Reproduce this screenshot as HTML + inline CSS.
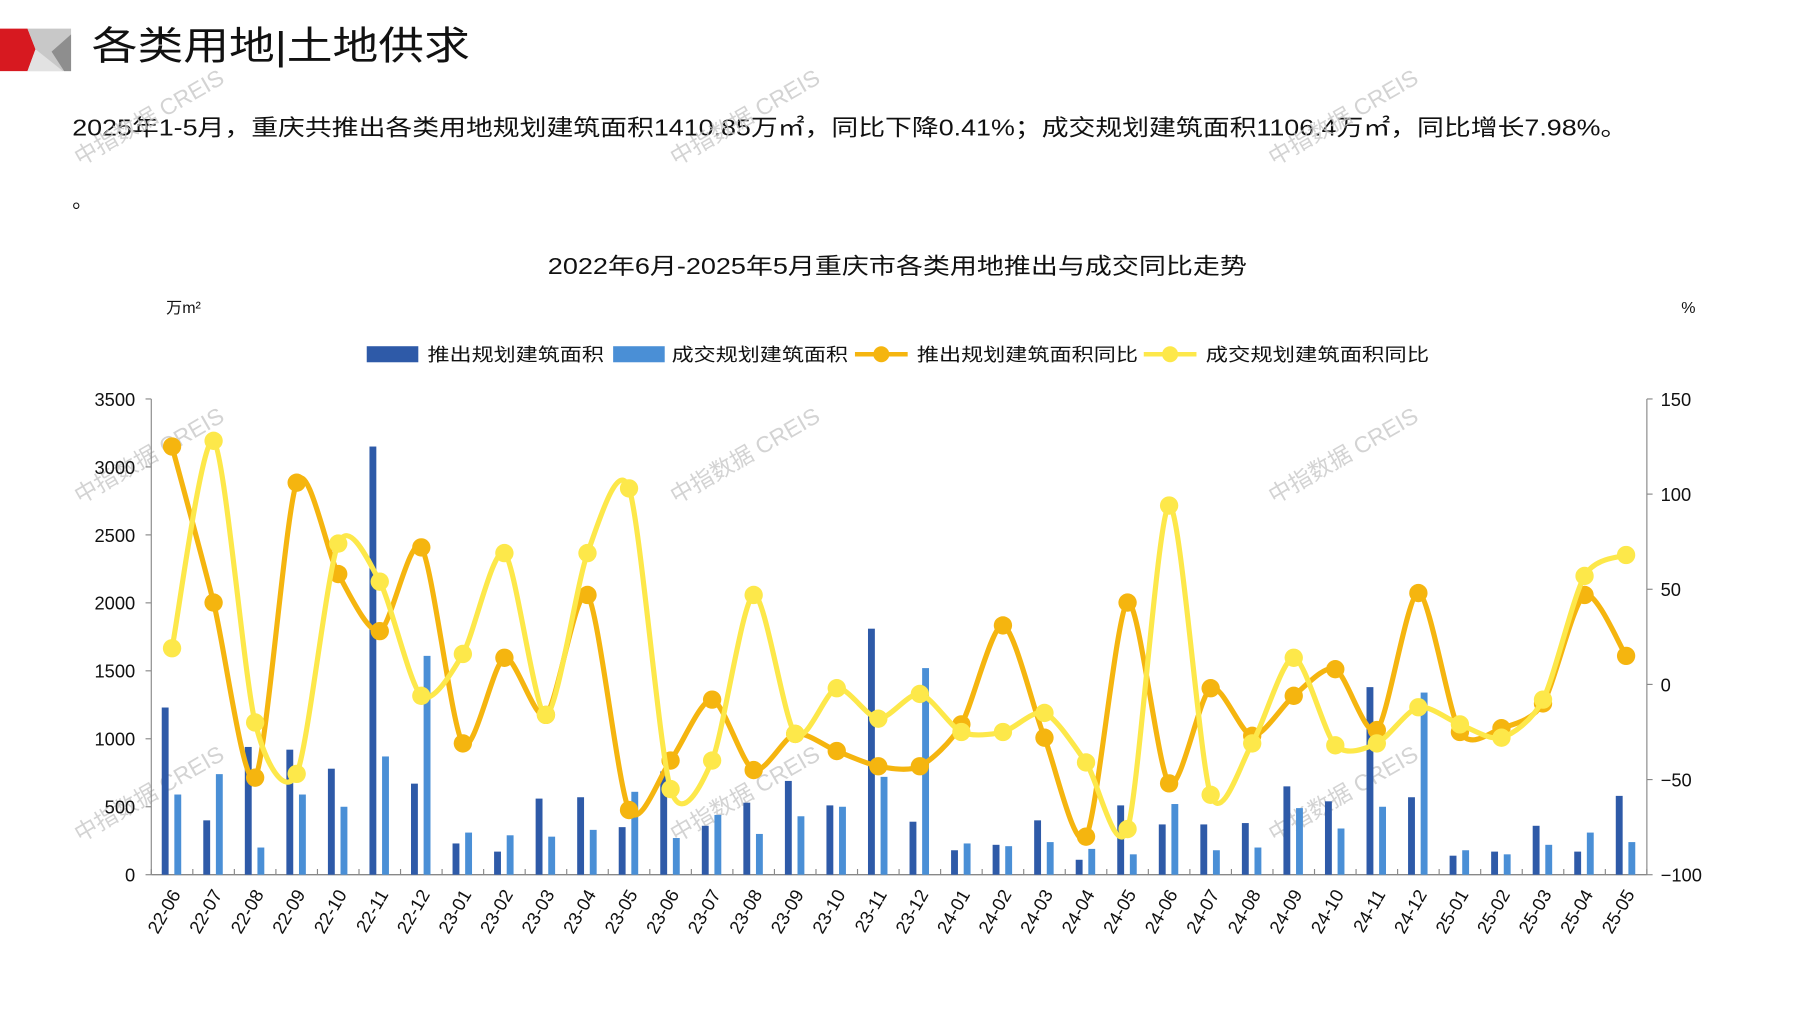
<!DOCTYPE html>
<html><head><meta charset="utf-8"><style>
html,body{margin:0;padding:0;background:#fff;}
svg{display:block;}
text{font-family:"Liberation Sans","Noto Sans CJK SC",sans-serif;}
</style></head><body>
<svg id="s" width="1797" height="1010" viewBox="0 0 1568 881" preserveAspectRatio="none" xmlns="http://www.w3.org/2000/svg">
<polygon points="0,25 24,25 31,43 24,62 0,62" fill="#d71920"/>
<polygon points="24,25 62,25 62,62 24,62 31,43" fill="#c8c8c8"/>
<polygon points="31,43 24,62 55,62" fill="#e2e2e2"/>
<polygon points="45,45 62,30 62,62 56,62" fill="#8e8e8e"/>
<text x="80" y="52" font-size="34" fill="#111" textLength="330" lengthAdjust="spacingAndGlyphs">各类用地|土地供求</text>
<text x="63" y="118" font-size="20" fill="#111" textLength="1357" lengthAdjust="spacingAndGlyphs">2025年1-5月，重庆共推出各类用地规划建筑面积1410.85万㎡，同比下降0.41%；成交规划建筑面积1106.4万㎡，同比增长7.98%。</text>
<text x="63" y="181" font-size="18" fill="#111">。</text>
<text x="478" y="239" font-size="20" fill="#111" textLength="610" lengthAdjust="spacingAndGlyphs">2022年6月-2025年5月重庆市各类用地推出与成交同比走势</text>
<text x="145" y="273" font-size="14" fill="#111">万m²</text>
<text x="1467" y="273" font-size="14" fill="#111">%</text>
<rect x="320" y="302" width="45" height="14" fill="#2e5aa8"/>
<text x="373" y="315" font-size="16" fill="#111" textLength="154" lengthAdjust="spacingAndGlyphs">推出规划建筑面积</text>
<rect x="535" y="302" width="45" height="14" fill="#4a8fd6"/>
<text x="586" y="315" font-size="16" fill="#111" textLength="154" lengthAdjust="spacingAndGlyphs">成交规划建筑面积</text>
<line x1="746" y1="309" x2="792" y2="309" stroke="#f5b50f" stroke-width="4"/><circle cx="769" cy="309" r="7" fill="#f5b50f"/>
<text x="800" y="315" font-size="16" fill="#111" textLength="193" lengthAdjust="spacingAndGlyphs">推出规划建筑面积同比</text>
<line x1="998" y1="309" x2="1044" y2="309" stroke="#fde84a" stroke-width="4"/><circle cx="1021" cy="309" r="7" fill="#fde84a"/>
<text x="1052" y="315" font-size="16" fill="#111" textLength="195" lengthAdjust="spacingAndGlyphs">成交规划建筑面积同比</text>
<g id="wm" fill="#c8c8c8" font-size="20" opacity="0.8"></g>
<g id="ch"></g>
</svg>
<script>
var ns="http://www.w3.org/2000/svg",g=document.getElementById('ch'),wm=document.getElementById('wm');
function el(t,a,p,txt){var e=document.createElementNS(ns,t);for(var k in a)e.setAttribute(k,a[k]);if(txt!=null)e.textContent=txt;(p||g).appendChild(e);return e;}
[[70,145],[590,145],[1112,145],[70,440],[590,440],[1112,440],[70,735],[590,735],[1112,735]].forEach(function(p){el('text',{x:p[0],y:p[1],transform:'rotate(-30 '+p[0]+' '+p[1]+')'},wm,'中指数据 CREIS');});
var L=132,R=1437,T=348,B=763,n=36,w=(R-L)/n;
var labs=[],y0=22,m0=6;for(var i=0;i<n;i++){var m=(m0-1+i)%12+1,y=y0+Math.floor((m0-1+i)/12);labs.push(y+'-'+(m<10?'0':'')+m);}
var b1=[1230,400,940,920,780,3150,670,230,170,560,570,350,760,360,530,690,510,1810,390,180,220,400,110,510,370,370,380,650,540,1380,570,140,170,360,170,580];
var b2=[590,740,200,590,500,870,1610,310,290,280,330,610,270,440,300,430,500,720,1520,230,210,240,190,150,520,180,200,490,340,500,1340,180,150,220,310,240];
var l1=[125,43,-49,106,58,28,72,-31,14,-16,47,-66,-40,-8,-45,-26,-35,-43,-43,-21,31,-28,-80,43,-52,-2,-27,-6,8,-24,48,-25,-23,-10,47,15];
var l2=[19,128,-20,-47,74,54,-6,16,69,-16,69,103,-55,-40,47,-26,-2,-18,-5,-25,-25,-15,-41,-76,94,-58,-31,14,-32,-31,-12,-21,-28,-8,57,68];
function yl(v){return B-v/3500*(B-T);} function yr(v){return B-(v+100)/250*(B-T);}
el('line',{x1:L,y1:T,x2:L,y2:B,stroke:'#888','stroke-width':1});
el('line',{x1:R,y1:T,x2:R,y2:B,stroke:'#888','stroke-width':1});
el('line',{x1:L,y1:B,x2:R,y2:B,stroke:'#888','stroke-width':1.2});
for(var v=0;v<=3500;v+=500){var yy=yl(v);el('line',{x1:L-5,y1:yy,x2:L,y2:yy,stroke:'#888'});el('text',{x:L-14,y:yy+6,'font-size':16,'text-anchor':'end',fill:'#111'},null,v);}
for(var v=-100;v<=150;v+=50){var yy=yr(v);el('line',{x1:R,y1:yy,x2:R+5,y2:yy,stroke:'#888'});el('text',{x:R+12,y:yy+6,'font-size':16,fill:'#111'},null,v<0?'−'+(-v):v);}
for(var i=0;i<=n;i++){var xx=L+i*w;el('line',{x1:xx,y1:B-5,x2:xx,y2:B,stroke:'#888'});}
for(var i=0;i<n;i++){var c=L+w*(i+.5);
el('rect',{x:c-9,y:yl(b1[i]),width:6,height:B-yl(b1[i]),fill:'#2e5aa8'});
el('rect',{x:c+2,y:yl(b2[i]),width:6,height:B-yl(b2[i]),fill:'#4a8fd6'});
var tx=c+8,ty=780;el('text',{x:tx,y:ty,'font-size':16,'text-anchor':'end',fill:'#111',transform:'rotate(-60 '+tx+' '+ty+')'},null,labs[i]);}
function line(d,col){var p=d.map(function(v,i){return [L+w*(i+.5),yr(v)];});var s='M'+p[0][0]+','+p[0][1],k=7.5;
for(var i=0;i<p.length-1;i++){var a=p[i-1]||p[i],b=p[i],c=p[i+1],e=p[i+2]||c;
s+=' C'+(b[0]+(c[0]-a[0])/k)+','+(b[1]+(c[1]-a[1])/k)+' '+(c[0]-(e[0]-b[0])/k)+','+(c[1]-(e[1]-b[1])/k)+' '+c[0]+','+c[1];}
el('path',{d:s,fill:'none',stroke:col,'stroke-width':4.5});p.forEach(function(q){el('circle',{cx:q[0],cy:q[1],r:8,fill:col});});}
line(l1,'#f5b50f');line(l2,'#fde84a');
</script>
</body></html>
